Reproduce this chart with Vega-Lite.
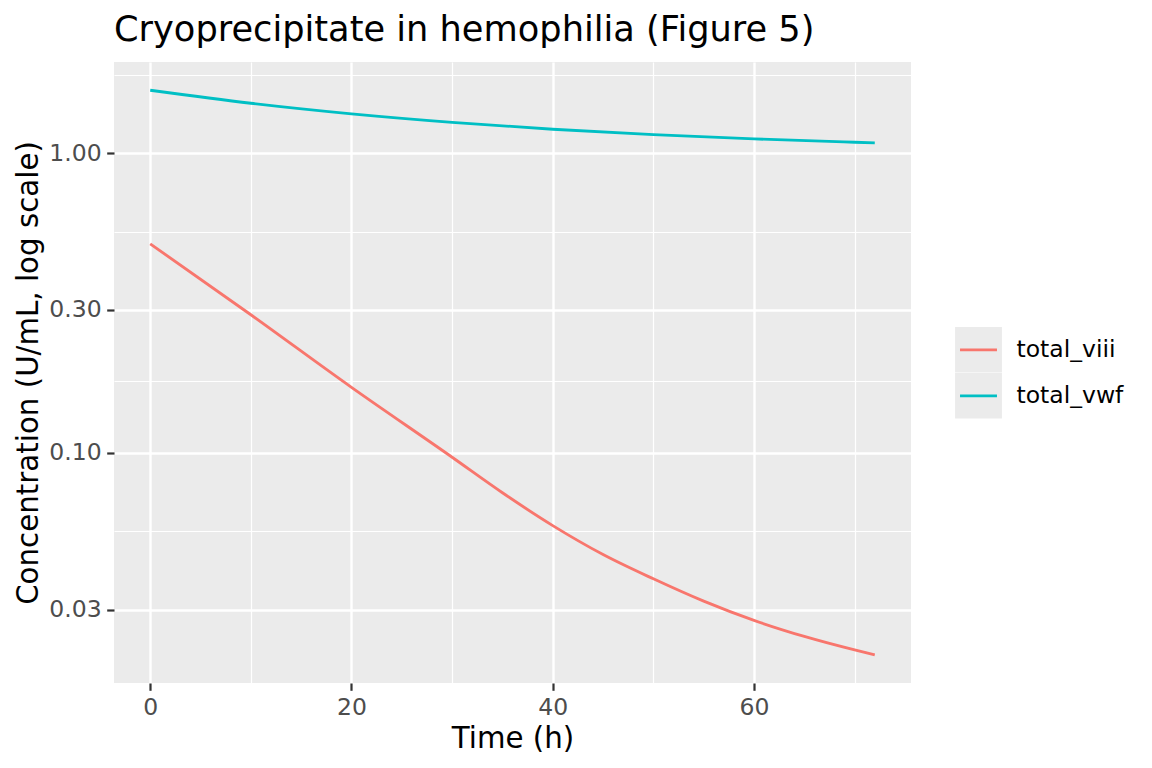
{
  "$schema": "https://vega.github.io/schema/vega-lite/v6.json",
  "width": 797,
  "height": 621,
  "autosize": {"type": "none"},
  "padding": {"left": 114, "top": 62, "right": 241, "bottom": 85},
  "background": "white",
  "title": {
    "text": "Cryoprecipitate in hemophilia (Figure 5)",
    "anchor": "start",
    "frame": "group",
    "font": "DejaVu Sans",
    "fontSize": 35.2,
    "fontWeight": "normal",
    "color": "black",
    "baseline": "alphabetic",
    "offset": 14,
    "dy": 28
  },
  "data": {
    "values": [
      {"time": 0, "series": "total_viii", "conc": 0.4984},
      {"time": 10, "series": "total_viii", "conc": 0.289},
      {"time": 20, "series": "total_viii", "conc": 0.1654},
      {"time": 30, "series": "total_viii", "conc": 0.0967},
      {"time": 35, "series": "total_viii", "conc": 0.0736},
      {"time": 40, "series": "total_viii", "conc": 0.0572},
      {"time": 45, "series": "total_viii", "conc": 0.0458},
      {"time": 50, "series": "total_viii", "conc": 0.038},
      {"time": 55, "series": "total_viii", "conc": 0.032},
      {"time": 60, "series": "total_viii", "conc": 0.0276},
      {"time": 65, "series": "total_viii", "conc": 0.0244},
      {"time": 70, "series": "total_viii", "conc": 0.022},
      {"time": 72, "series": "total_viii", "conc": 0.0212},
      {"time": 0, "series": "total_vwf", "conc": 1.6222},
      {"time": 10, "series": "total_vwf", "conc": 1.468},
      {"time": 20, "series": "total_vwf", "conc": 1.3533},
      {"time": 30, "series": "total_vwf", "conc": 1.2677},
      {"time": 40, "series": "total_vwf", "conc": 1.2023},
      {"time": 50, "series": "total_vwf", "conc": 1.1529},
      {"time": 60, "series": "total_vwf", "conc": 1.1161},
      {"time": 70, "series": "total_vwf", "conc": 1.0879},
      {"time": 72, "series": "total_vwf", "conc": 1.0826}
    ]
  },
  "encoding": {
    "x": {
      "field": "time",
      "type": "quantitative",
      "scale": {"domain": [-3.6, 75.6], "nice": false, "zero": false},
      "axis": {
        "title": "Time (h)",
        "values": [0, 10, 20, 30, 40, 50, 60, 70],
        "labelExpr": "datum.value % 20 == 0 ? format(datum.value, 'd') : ''",
        "labelOverlap": false,
        "labelFlush": false,
        "domain": false,
        "tickSize": 7.3,
        "tickWidth": 2.2,
        "tickColor": "#333333",
        "tickOpacity": {"condition": {"test": "datum.value % 20 == 0", "value": 1}, "value": 0},
        "gridColor": "white",
        "gridOpacity": 1,
        "gridWidth": {"condition": {"test": "datum.value % 20 == 0", "value": 2.4}, "value": 1.2},
        "labelFont": "DejaVu Sans",
        "labelFontSize": 23.5,
        "labelColor": "#4D4D4D",
        "labelPadding": 5,
        "titleFont": "DejaVu Sans",
        "titleFontSize": 29.3,
        "titleFontWeight": "normal",
        "titleColor": "black",
        "titlePadding": 6
      }
    },
    "y": {
      "field": "conc",
      "type": "quantitative",
      "scale": {"type": "log", "domain": [0.017066, 2.0155], "nice": false, "zero": false},
      "axis": {
        "title": "Concentration (U/mL, log scale)",
        "values": [0.03, 0.054772, 0.1, 0.173205, 0.3, 0.547723, 1, 1.825742],
        "labelExpr": "indexof([0.03, 0.1, 0.3, 1], datum.value) >= 0 ? format(datum.value, '.2f') : ''",
        "labelOverlap": false,
        "labelFlush": false,
        "domain": false,
        "tickSize": 7.3,
        "tickWidth": 2.2,
        "tickColor": "#333333",
        "tickOpacity": {"condition": {"test": "indexof([0.03, 0.1, 0.3, 1], datum.value) >= 0", "value": 1}, "value": 0},
        "gridColor": "white",
        "gridOpacity": 1,
        "gridWidth": {"condition": {"test": "indexof([0.03, 0.1, 0.3, 1], datum.value) >= 0", "value": 2.4}, "value": 1.2},
        "labelFont": "DejaVu Sans",
        "labelFontSize": 23.5,
        "labelColor": "#4D4D4D",
        "labelPadding": 5.5,
        "titleFont": "DejaVu Sans",
        "titleFontSize": 29.3,
        "titleFontWeight": "normal",
        "titleColor": "black",
        "titlePadding": 5
      }
    }
  },
  "layer": [
    {
      "mark": {"type": "point", "filled": true, "shape": "square", "opacity": 0},
      "encoding": {
        "fill": {
          "field": "series",
          "type": "nominal",
          "scale": {"domain": ["total_viii", "total_vwf"], "range": ["#EBEBEB", "#EBEBEB"]},
          "legend": {
            "orient": "none",
            "legendX": 841,
            "legendY": 265,
            "title": null,
            "padding": 0,
            "rowPadding": 0,
            "clipHeight": 45.6,
            "symbolType": "square",
            "symbolSize": 1936,
            "symbolFillColor": "#EBEBEB",
            "symbolStrokeColor": "#EBEBEB",
            "symbolStrokeWidth": 2.85,
            "symbolOpacity": 1,
            "labelExpr": "''",
            "zindex": 0
          }
        }
      }
    },
    {
      "mark": {"type": "line", "strokeWidth": 2.85, "interpolate": "monotone"},
      "encoding": {
        "color": {
          "field": "series",
          "type": "nominal",
          "scale": {"range": ["#F8766D", "#00BFC4"]},
          "legend": {
            "orient": "none",
            "legendX": 841,
            "legendY": 265,
            "title": null,
            "padding": 0,
            "rowPadding": 0,
            "clipHeight": 45.6,
            "symbolType": "M-1,-1M1,1M-0.84,0H0.84",
            "symbolSize": 1936,
            "symbolStrokeWidth": 2.85,
            "labelFont": "DejaVu Sans",
            "labelFontSize": 23.5,
            "labelColor": "black",
            "labelOffset": 14.5,
            "zindex": 1
          }
        }
      }
    }
  ],
  "config": {
    "font": "DejaVu Sans",
    "view": {"fill": "#EBEBEB", "stroke": null}
  }
}
